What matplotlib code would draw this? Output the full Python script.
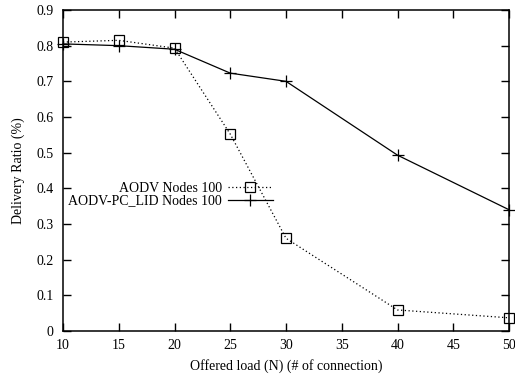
import matplotlib
matplotlib.use("Agg")
import matplotlib.pyplot as plt

plt.rcParams['font.family'] = ['Liberation Serif', 'DejaVu Serif']

offered_load = [10, 15, 20, 25, 30, 40, 50]
aodv = [0.81, 0.815, 0.793, 0.552, 0.26, 0.059, 0.037]
aodv_pc_lid = [0.805, 0.80, 0.79, 0.723, 0.70, 0.493, 0.34]

fig = plt.figure(figsize=(5.15, 3.74), dpi=100)
ax = fig.add_axes([63 / 515, 1 - 331 / 374, (509 - 63) / 515, (331 - 10) / 374])

ax.plot(offered_load, aodv, color='black', linestyle=(0, (1, 2)), linewidth=0.9,
        marker='s', markersize=7, markerfacecolor='none', markeredgewidth=0.9,
        label='AODV Nodes 100', clip_on=False)
ax.plot(offered_load, aodv_pc_lid, color='black', linestyle='-', linewidth=0.9,
        marker='+', markersize=9, markeredgewidth=0.9,
        label='AODV-PC_LID Nodes 100', clip_on=False)

ax.set_xlim(10, 50)
ax.set_ylim(0, 0.9)
ax.set_xticks(range(10, 51, 5))
ax.set_yticks([i / 10 for i in range(10)])
ax.set_yticklabels(['0'] + [f'{i / 10:.1f}' for i in range(1, 10)])
ax.tick_params(direction='in', length=6, width=1, top=True, right=True, labelsize=10)
ax.tick_params(axis='y', pad=7)
ax.tick_params(axis='x', pad=6)
for s in ax.spines.values():
    s.set_linewidth(1.1)

ax.set_xlabel('Offered load (N) (# of connection)', fontsize=10, labelpad=5)
ax.set_ylabel('Delivery Ratio (%)', fontsize=10, labelpad=8)

leg = ax.legend(loc='center right', bbox_to_anchor=(0.47, 0.425), frameon=False, fontsize=10,
                markerfirst=False, handlelength=3.2, handletextpad=0.45,
                labelspacing=0.0, borderaxespad=0, borderpad=0)
for t in leg.get_texts():
    t.set_ha('right')
leg._legend_box.align = 'right'

fig.savefig('out.png', dpi=100)
